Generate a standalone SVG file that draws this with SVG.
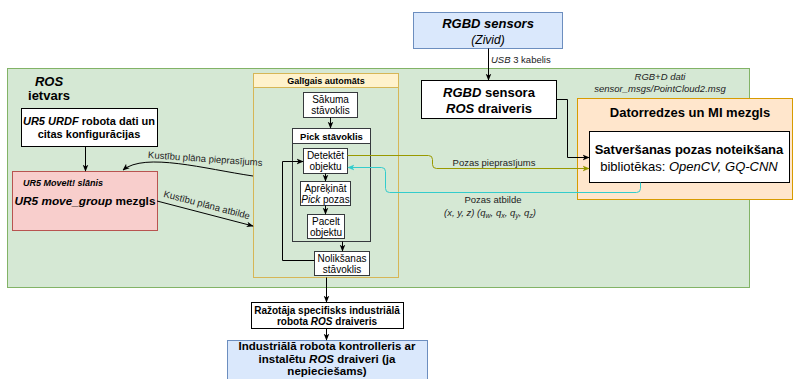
<svg xmlns="http://www.w3.org/2000/svg" width="793" height="379" viewBox="0 0 793 379">
<defs>
<style>
text{font-family:"Liberation Sans",Arial,sans-serif;fill:#000}
.b{font-weight:bold}
.i{font-style:italic}
.box{fill:#fff;stroke:#000;stroke-width:1}
.gbox{fill:#fff;stroke:#36393d;stroke-width:1}
.blue{fill:#dae8fc;stroke:#6c8ebf;stroke-width:1}
.edge{fill:none;stroke:#000;stroke-width:1}
.lbl{font-size:9.5px;fill:#222}
</style>
<marker id="ah" viewBox="0 0 10 10" refX="9" refY="5" markerWidth="7" markerHeight="7" orient="auto" markerUnits="userSpaceOnUse"><path d="M0,1 L10,5 L0,9 L2.5,5 Z" fill="#000"/></marker>
<marker id="aho" viewBox="0 0 10 10" refX="9" refY="5" markerWidth="7" markerHeight="7" orient="auto" markerUnits="userSpaceOnUse"><path d="M0,1 L10,5 L0,9 L2.5,5 Z" fill="#999900"/></marker>
<marker id="ahc" viewBox="0 0 10 10" refX="9" refY="5" markerWidth="7" markerHeight="7" orient="auto" markerUnits="userSpaceOnUse"><path d="M0,1 L10,5 L0,9 L2.5,5 Z" fill="#33cccc"/></marker>
</defs>

<g id="ros">
<rect x="7.5" y="68.5" width="742" height="219" fill="#d5e8d4" stroke="#82b366"/>
<text x="49" y="86" text-anchor="middle" font-size="13" class="b i">ROS</text>
<text x="49" y="100" text-anchor="middle" font-size="13" class="b">ietvars</text>
</g>

<g id="rgbd-sensor">
<rect class="blue" x="413.5" y="12.5" width="149" height="36"/>
<text x="488" y="28" text-anchor="middle" font-size="13" class="b i">RGBD sensors</text>
<text x="488" y="44" text-anchor="middle" font-size="12" class="i" fill="#333">(Zivid)</text>
</g>

<g id="rgbd-driver">
<rect class="box" x="421.5" y="80.5" width="135" height="38"/>
<text x="489" y="97" text-anchor="middle" font-size="13" class="b"><tspan class="i">RGBD</tspan> sensora</text>
<text x="489" y="113" text-anchor="middle" font-size="13" class="b"><tspan class="i">ROS</tspan> draiveris</text>
</g>

<g id="vision">
<rect x="577.5" y="98.5" width="215" height="101" fill="#ffe6cc" stroke="#d79b00"/>
<text x="690" y="117" text-anchor="middle" font-size="13" class="b">Datorredzes un MI mezgls</text>
</g>

<g id="grasp">
<rect class="box" x="589.5" y="131.5" width="200" height="51"/>
<text x="689" y="154" text-anchor="middle" font-size="13" class="b">Satveršanas pozas noteikšana</text>
<text x="689" y="171" text-anchor="middle" font-size="13">bibliotēkas: <tspan class="i">OpenCV, GQ-CNN</tspan></text>
</g>

<g id="urdf">
<rect class="box" x="21.5" y="108.5" width="136" height="38"/>
<text x="89" y="125" text-anchor="middle" font-size="11" class="b"><tspan class="i">UR5 URDF</tspan> robota dati un</text>
<text x="89" y="138" text-anchor="middle" font-size="11" class="b">citas konfigurācijas</text>
</g>

<g id="movegroup">
<rect x="12.5" y="171.5" width="145" height="59" fill="#f8cecc" stroke="#b85450"/>
<text x="23" y="186" font-size="9" class="b i">UR5 MoveIt! slānis</text>
<text x="85" y="205" text-anchor="middle" font-size="11.8" class="b"><tspan class="i">UR5 move_group</tspan> mezgls</text>
</g>

<g id="fsm">
<rect x="253.5" y="73.5" width="145" height="204" fill="none" stroke="#d6b656"/>
<rect x="253.5" y="73.5" width="145" height="14" fill="#fff2cc" stroke="#d6b656"/>
<text x="326" y="84" text-anchor="middle" font-size="9" class="b">Galīgais automāts</text>
</g>

<g id="start">
<rect class="gbox" x="303.5" y="92.5" width="54" height="25"/>
<text x="330.5" y="103" text-anchor="middle" font-size="10" fill="#333">Sākuma</text>
<text x="330.5" y="114" text-anchor="middle" font-size="10" fill="#333">stāvoklis</text>
</g>

<g id="pick">
<rect x="292.5" y="128.5" width="78" height="113" fill="none" stroke="#36393d"/>
<rect x="292.5" y="128.5" width="78" height="15" fill="#fff" stroke="#36393d"/>
<text x="331.5" y="139.5" text-anchor="middle" font-size="9.5" class="b">Pick stāvoklis</text>
</g>

<g id="detect">
<rect class="gbox" x="303.5" y="148.5" width="44" height="25"/>
<text x="325.5" y="159" text-anchor="middle" font-size="10" fill="#333">Detektēt</text>
<text x="325.5" y="170" text-anchor="middle" font-size="10" fill="#333">objektu</text>
</g>

<g id="compute">
<rect class="gbox" x="300.5" y="181.5" width="50" height="24"/>
<text x="325.5" y="191.5" text-anchor="middle" font-size="10" fill="#333">Aprēķināt</text>
<text x="325.5" y="202.5" text-anchor="middle" font-size="10" fill="#333"><tspan class="i">Pick</tspan> pozas</text>
</g>

<g id="lift">
<rect class="gbox" x="307.5" y="214.5" width="37" height="24"/>
<text x="326" y="224.5" text-anchor="middle" font-size="10" fill="#333">Pacelt</text>
<text x="326" y="235.5" text-anchor="middle" font-size="10" fill="#333">objektu</text>
</g>

<g id="place">
<rect class="gbox" x="314.5" y="251.5" width="55" height="24"/>
<text x="342" y="261.5" text-anchor="middle" font-size="10" fill="#333">Nolikšanas</text>
<text x="342" y="272.5" text-anchor="middle" font-size="10" fill="#333">stāvoklis</text>
</g>

<g id="vendor-driver">
<rect class="box" x="251.5" y="302.5" width="152" height="26"/>
<text x="327" y="314" text-anchor="middle" font-size="10" class="b">Ražotāja specifisks industriālā</text>
<text x="327" y="325" text-anchor="middle" font-size="10" class="b">robota <tspan class="i">ROS</tspan> draiveris</text>
</g>

<g id="controller">
<rect class="blue" x="227.5" y="340.5" width="200" height="45"/>
<text x="327" y="350" text-anchor="middle" font-size="11.5" class="b">Industriālā robota kontrolleris ar</text>
<text x="327" y="362.5" text-anchor="middle" font-size="11.5" class="b">instalētu <tspan class="i">ROS</tspan> draiveri (ja</text>
<text x="327" y="375" text-anchor="middle" font-size="11.5" class="b">nepieciešams)</text>
</g>

<g id="connectors">
<path class="edge" d="M488.5,48.5 V80" marker-end="url(#ah)"/>
<text x="491" y="63" class="lbl"><tspan class="i">USB</tspan> 3 kabelis</text>

<path class="edge" d="M556.5,99.5 H567.5 V157.5 H589" marker-end="url(#ah)"/>
<text x="660" y="80" text-anchor="middle" class="lbl i">RGB+D dati</text>
<text x="660" y="92" text-anchor="middle" class="lbl i">sensor_msgs/PointCloud2.msg</text>

<path class="edge" d="M85.5,146.5 V171" marker-end="url(#ah)"/>

<path class="edge" d="M253,176 C205,169 145,152 123,170" marker-end="url(#ah)"/>
<text transform="translate(205,162) rotate(4)" text-anchor="middle" class="lbl">Kustību plāna pieprasījums</text>

<path class="edge" d="M157,201 L253,226" marker-end="url(#ah)"/>
<text transform="translate(206,208) rotate(14.7)" text-anchor="middle" class="lbl">Kustību plāna atbilde</text>

<path class="edge" d="M330.5,117.5 V128" marker-end="url(#ah)"/>
<path class="edge" d="M325.5,173.5 V181" marker-end="url(#ah)"/>
<path class="edge" d="M325.5,205.5 V214" marker-end="url(#ah)"/>
<path class="edge" d="M342.5,241.5 V251" marker-end="url(#ah)"/>
<path class="edge" d="M314.5,260.5 H282.5 V161.5 H303" marker-end="url(#ah)"/>

<path fill="none" stroke="#999900" d="M347.5,155.5 H428.5 Q432.5,155.5 432.5,159.5 V164.5 Q432.5,168.5 436.5,168.5 H589" marker-end="url(#aho)"/>
<text x="494" y="166" text-anchor="middle" class="lbl">Pozas pieprasījums</text>

<path fill="none" stroke="#33cccc" d="M640.5,182.5 V188.5 Q640.5,192.5 636.5,192.5 H389.5 Q385.5,192.5 385.5,188.5 V171.5 Q385.5,167.5 381.5,167.5 H348" marker-end="url(#ahc)"/>
<text x="493" y="203" text-anchor="middle" class="lbl">Pozas atbilde</text>
<text x="490" y="216" text-anchor="middle" class="lbl i">(x, y, z) (q<tspan font-size="7" dy="2">w</tspan><tspan dy="-2">, q</tspan><tspan font-size="7" dy="2">x</tspan><tspan dy="-2">, q</tspan><tspan font-size="7" dy="2">y</tspan><tspan dy="-2">, q</tspan><tspan font-size="7" dy="2">z</tspan><tspan dy="-2">)</tspan></text>

<path class="edge" d="M326.5,277.5 V302" marker-end="url(#ah)"/>
<path class="edge" d="M326.5,328.5 V340" marker-end="url(#ah)"/>
</g>
</svg>
